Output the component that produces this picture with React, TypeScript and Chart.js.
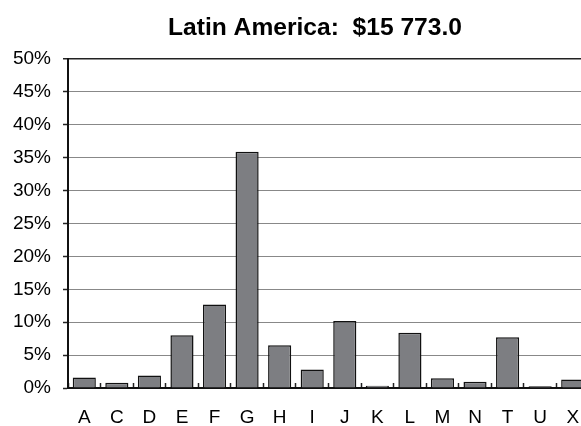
import React, { useEffect, useRef } from "react";
import { Chart, registerables } from "chart.js";

Chart.register(...registerables);

const TITLE = "Latin America:  $15 773.0";
const categories = ["A", "C", "D", "E", "F", "G", "H", "I", "J", "K", "L", "M", "N", "T", "U", "X"];
const shares = [1.6, 0.8, 1.9, 8.0, 12.7, 35.9, 6.5, 2.8, 10.2, 0.35, 8.4, 1.5, 0.95, 7.7, 0.25, 1.3];
const yMin = 0;
const yMax = 50;
const yStep = 5;

const FONT = "'Liberation Sans', Arial, sans-serif";

const titlePlugin = {
  id: "offsetTitle",
  afterDraw(chart: any) {
    const ctx = chart.ctx;
    ctx.save();
    ctx.font = `bold 24.6px ${FONT}`;
    ctx.fillStyle = "#000";
    ctx.textAlign = "center";
    ctx.textBaseline = "alphabetic";
    ctx.fillText(TITLE, 315, 35);
    ctx.restore();
  },
};

export default function App() {
  const ref = useRef<HTMLCanvasElement | null>(null);

  useEffect(() => {
    if (!ref.current) return;
    const chart = new Chart(ref.current, {
      type: "bar",
      data: {
        labels: categories,
        datasets: [
          {
            data: shares,
            backgroundColor: "#7d7e82",
            borderColor: "#111",
            borderWidth: 1.5,
            barPercentage: 0.71,
            categoryPercentage: 1,
          },
        ],
      },
      plugins: [titlePlugin],
      options: {
        responsive: false,
        animation: false,
        devicePixelRatio: 1,
        layout: { padding: { left: 0, right: 41, top: 59, bottom: 0 } },
        plugins: {
          legend: { display: false },
          tooltip: { enabled: false },
          title: { display: false },
        },
        scales: {
          x: {
            afterFit: (s: any) => {
              s.height = 38;
            },
            grid: {
              offset: true,
              drawOnChartArea: false,
              drawTicks: true,
              tickLength: -5,
              tickColor: "#222",
              tickWidth: 1.5,
            },
            border: { color: "#111", width: 2 },
            ticks: {
              color: "#000",
              font: { family: FONT, size: 19 },
              padding: 23,
              maxRotation: 0,
              autoSkip: false,
            },
          },
          y: {
            min: yMin,
            max: yMax,
            afterFit: (s: any) => {
              s.width = 68;
            },
            grid: {
              color: (ctx: any) => (ctx.tick && ctx.tick.value === yMax ? "#222" : "#888"),
              lineWidth: (ctx: any) => (ctx.tick && ctx.tick.value === yMax ? 1.5 : 1),
              tickColor: "#222",
              tickLength: 5,
              tickWidth: 1.5,
            },
            border: { color: "#111", width: 2 },
            ticks: {
              stepSize: yStep,
              color: "#000",
              font: { family: FONT, size: 19 },
              padding: 12,
              callback: (v: any) => `${v}%`,
            },
          },
        },
      },
    });
    return () => chart.destroy();
  }, []);

  return (
    <div
      style={{
        position: "absolute",
        left: 0,
        top: 0,
        width: 581,
        height: 426,
        overflow: "hidden",
        background: "#fff",
      }}
    >
      <canvas ref={ref} width={630} height={426} style={{ display: "block" }} />
    </div>
  );
}
